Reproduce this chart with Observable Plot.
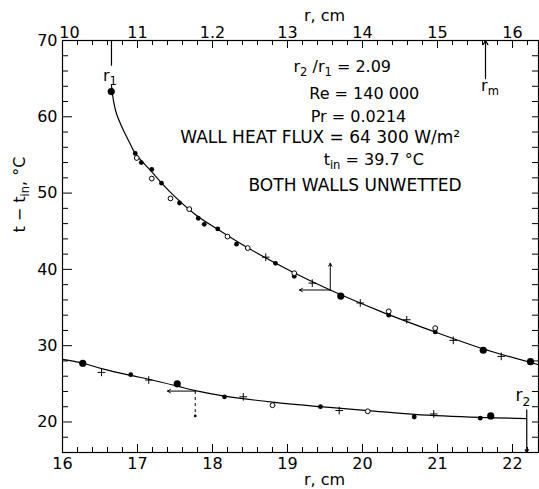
<!DOCTYPE html>
<html><head><meta charset="utf-8">
<script src="https://cdn.jsdelivr.net/npm/d3@7"></script>
<script src="https://cdn.jsdelivr.net/npm/@observablehq/plot@0.6"></script>
<style>
html,body{margin:0;padding:0;background:#fff;}
#chart{width:539px;height:489px;overflow:hidden;}
svg text{font-family:"DejaVu Sans",sans-serif;}
</style></head><body><div id="chart"></div>
<script>
// ---------- data (r in cm, t - t_in in °C) ----------
const bottomTicks = [16, 17, 18, 19, 20, 21, 22];
const topTickLabels = ["10", "11", "1.2", "13", "14", "15", "16"];
const yTicks = [20, 30, 40, 50, 60, 70];

// upper curve (faired line)
const upperFitR = [16.653, 16.68, 16.72, 16.80, 16.88, 16.97, 17.17, 17.44, 17.77, 18.11, 18.51, 19.04, 19.57, 20.24, 20.91, 21.57, 22.35];
const upperFitT = [64.1, 62.1, 60.4, 58.5, 56.9, 55.2, 53.0, 50.1, 47.2, 45.0, 42.6, 39.8, 37.3, 34.5, 32.0, 29.7, 27.5];
const upperFilledR = [16.97, 17.05, 17.19, 17.32, 17.56, 17.81, 17.89, 18.07, 18.32, 18.84, 19.09, 20.35, 20.97];
const upperFilledT = [55.2, 54.0, 53.1, 51.3, 48.7, 46.7, 45.9, 45.3, 43.3, 40.8, 39.1, 34.0, 31.8];
const upperLargeR = [16.65, 19.71, 21.61, 22.24];
const upperLargeT = [63.3, 36.5, 29.4, 27.9];
const upperOpenR = [16.99, 17.19, 17.44, 17.69, 18.20, 18.47, 19.09, 20.35, 20.97];
const upperOpenT = [54.6, 51.9, 49.3, 47.9, 44.3, 42.8, 39.5, 34.5, 32.3];
const upperCrossR = [18.71, 19.33, 19.97, 20.59, 21.21, 21.85];
const upperCrossT = [41.6, 38.2, 35.6, 33.4, 30.7, 28.6];

// lower curve
const lowerFitR = [16.0, 16.27, 16.52, 16.91, 17.15, 17.53, 17.77, 18.16, 18.8, 19.44, 20.07, 20.69, 21.57, 22.19];
const lowerFitT = [28.2, 27.7, 27.0, 26.1, 25.6, 24.7, 24.1, 23.4, 22.6, 22.0, 21.5, 21.0, 20.6, 20.45];
const lowerFilledR = [16.91, 18.16, 19.44, 20.69, 21.57];
const lowerFilledT = [26.2, 23.3, 22.0, 20.65, 20.5];
const lowerLargeR = [16.27, 17.53, 21.71];
const lowerLargeT = [27.7, 25.0, 20.8];
const lowerOpenR = [18.8, 20.07];
const lowerOpenT = [22.2, 21.4];
const lowerCrossR = [16.52, 17.15, 18.41, 19.69, 20.95];
const lowerCrossT = [26.5, 25.5, 23.3, 21.5, 21.05];

// radial markers
const r1 = 16.653, rm = 21.64, r2 = 22.19;

// annotation text
const noteTexts = ["r_{2} /r_{1} = 2.09", "Re = 140 000", "Pr = 0.0214", "WALL HEAT FLUX = 64 300 W/m²", "BOTH WALLS UNWETTED"];
const noteR = [19.08, 19.29, 19.31, 17.57, 18.48];
const noteT = [66.5, 63.0, 60.0, 57.3, 51.0];
const tinText = "t_{in} = 39.7 °C";
const tinR = 20.15, tinT = 54.4;

// ---------- build ----------
const zip = (R, T) => R.map((r, i) => ({r, t: T[i]}));
const W = 539, H = 489;
const M = {top: 40, right: 1, bottom: 37, left: 62};
const iw = W - M.left - M.right, ih = H - M.top - M.bottom;

const majorX = bottomTicks;
const minorX = d3.range(0, 32).map(i => 16 + i * 0.2).filter(v => Math.abs(v - Math.round(v)) > 0.01);
const minorY = d3.range(9, 35).map(i => i * 2).filter(v => v % 10 !== 0);
const allY2 = d3.range(9, 35).map(i => i * 2);

const lineStyle = {x: "r", y: "t", stroke: "black", strokeWidth: 1.2, curve: "catmull-rom"};
const noteSize = [16, 16, 16, 17, 17];

const plot = Plot.plot({
  width: W, height: H,
  marginTop: M.top, marginRight: M.right, marginBottom: M.bottom, marginLeft: M.left,
  style: {background: "white", color: "black", fontFamily: "DejaVu Sans", fontSize: "16px", overflow: "visible"},
  x: {domain: [16, 16 + iw / 75], label: null},
  y: {domain: [16, 70], label: null},
  marks: [
    Plot.frame({stroke: "black", strokeWidth: 1.2}),
    // inward ticks
    Plot.ruleX(majorX, {insetTop: ih - 8, stroke: "black"}),
    Plot.ruleX(minorX, {insetTop: ih - 5, stroke: "black"}),
    Plot.ruleX(majorX, {insetBottom: ih - 8, stroke: "black"}),
    Plot.ruleX(minorX, {insetBottom: ih - 5, stroke: "black"}),
    Plot.ruleY(yTicks, {insetRight: iw - 10, stroke: "black"}),
    Plot.ruleY(minorY, {insetRight: iw - 6, stroke: "black"}),
    Plot.ruleY(allY2, {insetLeft: iw - 6, stroke: "black"}),
    // axis labels
    Plot.axisX({anchor: "bottom", ticks: bottomTicks, tickSize: 0, tickPadding: 5, label: null, fontSize: 16,
      tickFormat: d => String(d)}),
    Plot.axisX({anchor: "top", ticks: bottomTicks.slice(1), tickSize: 0, tickPadding: 3, label: null, fontSize: 16,
      tickFormat: d => topTickLabels[bottomTicks.indexOf(d)]}),
    Plot.text([topTickLabels[0]], {x: () => bottomTicks[0], frameAnchor: "top", dx: 7, dy: -3, lineAnchor: "bottom", fontSize: 16}),
    Plot.axisY({anchor: "left", ticks: yTicks, tickSize: 0, tickPadding: 5, label: null, fontSize: 16}),
    Plot.text(["r, cm"], {frameAnchor: "top", dx: 24, dy: -25, fontSize: 16, lineAnchor: "middle"}),
    Plot.text(["r, cm"], {frameAnchor: "bottom", dx: 24, dy: 27, fontSize: 16, lineAnchor: "middle"}),
    Plot.text(["t − t_{in}, °C"], {frameAnchor: "left", rotate: -90, dx: -43, dy: -14, fontSize: 16, lineAnchor: "middle"}),
    // curves
    Plot.line(zip(upperFitR, upperFitT), lineStyle),
    Plot.line(zip(lowerFitR, lowerFitT), lineStyle),
    // data points
    Plot.dot(zip(upperFilledR, upperFilledT), {x: "r", y: "t", r: 2.4, fill: "black", stroke: "none"}),
    Plot.dot(zip(upperLargeR, upperLargeT), {x: "r", y: "t", r: 3.6, fill: "black", stroke: "none"}),
    Plot.dot(zip(upperOpenR, upperOpenT), {x: "r", y: "t", r: 2.4, fill: "white", stroke: "black", strokeWidth: 1}),
    Plot.dot(zip(upperCrossR, upperCrossT), {x: "r", y: "t", r: 2.6, symbol: "plus", stroke: "black", strokeWidth: 1}),
    Plot.dot(zip(lowerFilledR, lowerFilledT), {x: "r", y: "t", r: 2.4, fill: "black", stroke: "none"}),
    Plot.dot(zip(lowerLargeR, lowerLargeT), {x: "r", y: "t", r: 3.6, fill: "black", stroke: "none"}),
    Plot.dot(zip(lowerOpenR, lowerOpenT), {x: "r", y: "t", r: 2.4, fill: "white", stroke: "black", strokeWidth: 1}),
    Plot.dot(zip(lowerCrossR, lowerCrossT), {x: "r", y: "t", r: 2.6, symbol: "plus", stroke: "black", strokeWidth: 1}),
    // arrows at max-temperature points
    Plot.arrow([{x1: 19.57, y1: 37.3, x2: 19.16, y2: 37.3}, {x1: 19.57, y1: 37.3, x2: 19.57, y2: 40.8},
                {x1: 17.77, y1: 24.05, x2: 17.40, y2: 24.05}],
      {x1: "x1", y1: "y1", x2: "x2", y2: "y2", headLength: 5, strokeWidth: 1, stroke: "black"}),
    Plot.link([{x1: 17.77, y1: 24.05, x2: 17.77, y2: 20.9}], {x1: "x1", y1: "y1", x2: "x2", y2: "y2", stroke: "black", strokeDasharray: "3,3"}),
    Plot.dot([{r: 17.77, t: 20.8}], {x: "r", y: "t", r: 1.4, fill: "black"}),
    // radial markers
    Plot.link([{y1: 70, y2: 66.7}], {x1: () => r1, x2: () => r1, y1: "y1", y2: "y2", stroke: "black", strokeWidth: 1.2}),
    Plot.arrow([{y1: 65.0, y2: 70}], {x1: () => rm, x2: () => rm, y1: "y1", y2: "y2", headLength: 6, stroke: "black", strokeWidth: 1.2}),
    Plot.arrow([{y1: 21.6, y2: 16}], {x1: () => r2, x2: () => r2, y1: "y1", y2: "y2", headLength: 4, stroke: "black", strokeWidth: 1.2}),
    Plot.text(["r_{1}"], {x: () => r1 - 0.02, y: () => 65.4, fontSize: 16, fill: "black"}),
    Plot.text(["r_{m}"], {x: () => rm + 0.06, y: () => 64.0, fontSize: 16, fill: "black"}),
    Plot.text(["r_{2}"], {x: () => r2 - 0.05, y: () => 23.4, fontSize: 17, fill: "black"}),
    // parameter block
    Plot.text(noteTexts, {x: (d, i) => noteR[i], y: (d, i) => noteT[i], text: d => d, textAnchor: "start", fontSize: (d, i) => noteSize[i], fill: "black"}),
    Plot.text([tinText], {x: () => tinR, y: () => tinT, fontSize: 16, fill: "black"})
  ]
});

// render subscripts written as _{...}
plot.querySelectorAll("text").forEach(el => {
  const s = el.textContent;
  if (!s.includes("_{")) return;
  el.textContent = "";
  const parts = s.split(/(_\{[^}]*\})/).filter(p => p.length);
  let shifted = false;
  for (const p of parts) {
    const ts = document.createElementNS("http://www.w3.org/2000/svg", "tspan");
    if (p.startsWith("_{")) {
      ts.textContent = p.slice(2, -1);
      ts.setAttribute("font-size", "0.72em");
      ts.setAttribute("dy", "0.35em");
      shifted = true;
    } else {
      ts.textContent = p;
      if (shifted) { ts.setAttribute("dy", "-0.252em"); shifted = false; }
    }
    el.appendChild(ts);
  }
});

document.getElementById("chart").appendChild(plot);
</script>
</body></html>
